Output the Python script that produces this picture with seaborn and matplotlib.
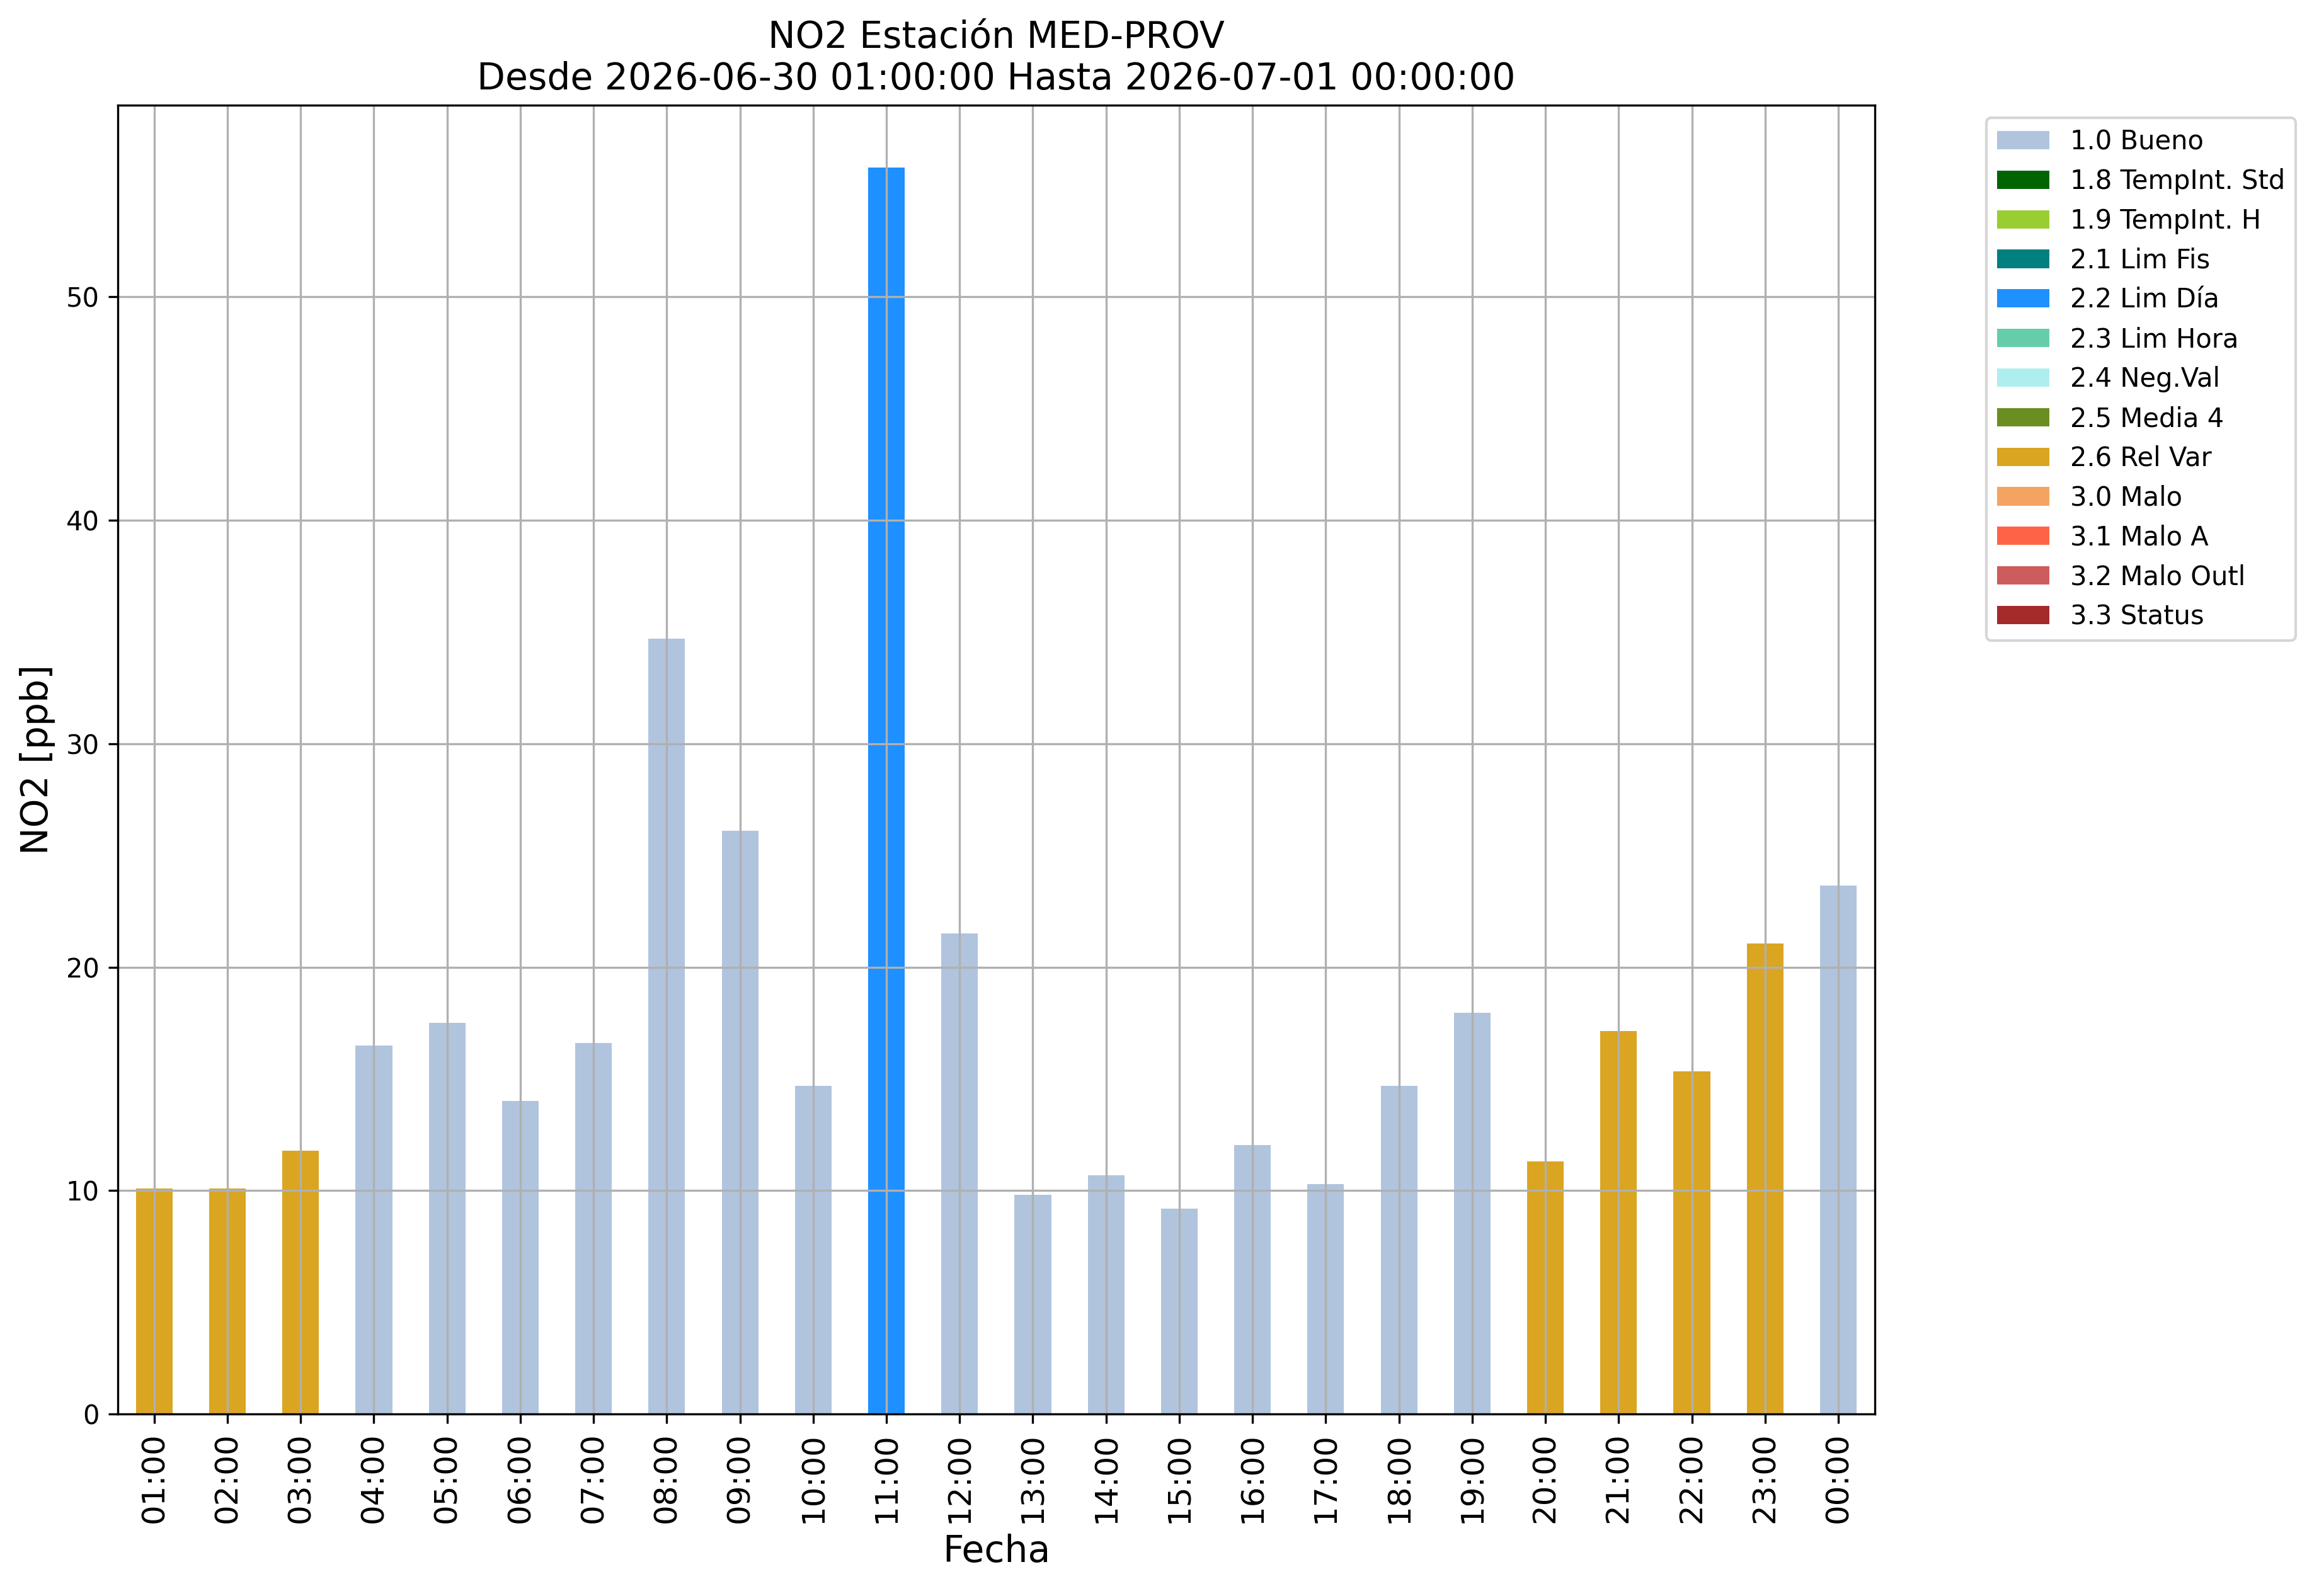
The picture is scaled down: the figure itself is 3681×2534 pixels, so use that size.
import matplotlib
matplotlib.use("Agg")
import matplotlib.pyplot as plt
import seaborn as sns
import pandas as pd
from matplotlib.patches import Patch

hours = ["01:00", "02:00", "03:00", "04:00", "05:00", "06:00", "07:00", "08:00",
         "09:00", "10:00", "11:00", "12:00", "13:00", "14:00", "15:00", "16:00",
         "17:00", "18:00", "19:00", "20:00", "21:00", "22:00", "23:00", "00:00"]
values = [10.1, 10.1, 11.8, 16.5, 17.5, 14.0, 16.6, 34.7, 26.1, 14.7, 55.8, 21.5,
          9.8, 10.7, 9.2, 12.05, 10.3, 14.7, 17.95, 11.3, 17.15, 15.35, 21.05, 23.65]
flags = ["2.6 Rel Var", "2.6 Rel Var", "2.6 Rel Var", "1.0 Bueno", "1.0 Bueno",
         "1.0 Bueno", "1.0 Bueno", "1.0 Bueno", "1.0 Bueno", "1.0 Bueno",
         "2.2 Lim Día", "1.0 Bueno", "1.0 Bueno", "1.0 Bueno", "1.0 Bueno",
         "1.0 Bueno", "1.0 Bueno", "1.0 Bueno", "1.0 Bueno", "2.6 Rel Var",
         "2.6 Rel Var", "2.6 Rel Var", "2.6 Rel Var", "1.0 Bueno"]

legend_labels = ["1.0 Bueno", "1.8 TempInt. Std", "1.9 TempInt. H", "2.1 Lim Fis",
                 "2.2 Lim Día", "2.3 Lim Hora", "2.4 Neg.Val", "2.5 Media 4",
                 "2.6 Rel Var", "3.0 Malo", "3.1 Malo A", "3.2 Malo Outl", "3.3 Status"]
legend_colors = ["lightsteelblue", "darkgreen", "yellowgreen", "teal", "dodgerblue",
                 "mediumaquamarine", "paleturquoise", "olivedrab", "goldenrod",
                 "sandybrown", "tomato", "indianred", "brown"]

palette = dict(zip(legend_labels, legend_colors))
df = pd.DataFrame({"Fecha": hours, "NO2": values, "flag": flags})
present = [l for l in legend_labels if l in set(flags)]

fig = plt.figure(figsize=(12.273, 8.447), dpi=300)
ax = fig.add_subplot(111)
fig.subplots_adjust(left=0.0507, right=0.8083, top=0.9342, bottom=0.1140)

sns.barplot(data=df, x="Fecha", y="NO2", hue="flag", hue_order=present,
            palette=palette, order=hours, dodge=False, width=0.5,
            linewidth=0, saturation=1, legend=False, ax=ax, errorbar=None)

ax.grid(True)
ax.set_xlim(-0.5, len(hours) - 0.5)
ax.set_ylim(0, max(values) * 1.05)
ax.set_yticks([0, 10, 20, 30, 40, 50])
ax.tick_params(axis="x", labelrotation=90, labelsize=12)
ax.tick_params(axis="y", labelsize=10)
ax.set_xlabel("Fecha", fontsize=14)
ax.set_ylabel("NO2 [ppb]", fontsize=14)
ax.set_title("NO2 Estación MED-PROV\nDesde 2026-06-30 01:00:00 Hasta 2026-07-01 00:00:00",
             fontsize=14)

handles = [Patch(facecolor=c, edgecolor="none", label=l)
           for l, c in zip(legend_labels, legend_colors)]
ax.legend(handles=handles, bbox_to_anchor=(1.056, 1), loc="upper left", fontsize=10)

fig.savefig("out.png", dpi=300)
